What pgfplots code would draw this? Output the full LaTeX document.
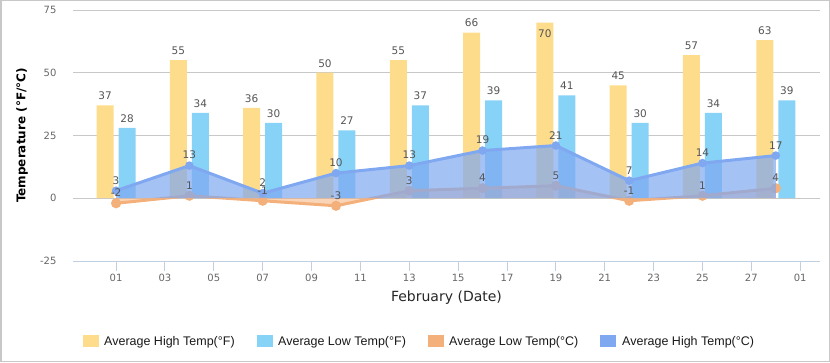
\documentclass[border=0pt]{standalone}
\usepackage{pgfplots}
\pgfplotsset{compat=1.18}
\usepackage{fontspec}
\setmainfont{DejaVu Sans}
\newfontfamily\legfont{Liberation Sans}
\definecolor{yellowc}{HTML}{FDDC8C}
\definecolor{lblue}{HTML}{87D3F8}
\definecolor{orangec}{HTML}{F4B07B}
\definecolor{bluec}{HTML}{7FA8F0}
\definecolor{gridc}{HTML}{C8C8C8}
\definecolor{axisc}{HTML}{C0D0E0}
\definecolor{tickc}{HTML}{666666}
\definecolor{labc}{HTML}{555555}
\begin{document}
\begin{tikzpicture}[x=1pt,y=1pt]
\useasboundingbox (0,0) rectangle (830,362);
\draw[line width=1.5pt, color=gridc] (0.75,0.75) rectangle (829.25,361.25);
\begin{axis}[
  at={(73pt,101pt)}, anchor=south west,
  scale only axis, width=747pt, height=251pt,
  xmin=-0.763, xmax=29.81, ymin=-25, ymax=75,
  axis x line*=bottom, axis y line*=left,
  x axis line style={color=axisc, line width=1pt},
  y axis line style={draw=none},
  ytick={-25,0,25,50,75}, yticklabels={-25,0,25,50,75},
  ymajorgrids, grid style={color=gridc, line width=0.8pt},
  xtick={1,3,...,29},
  xticklabels={01,03,05,07,09,11,13,15,17,19,21,23,25,27,01},
  tick align=outside, major tick length=10pt,
  x tick style={color=axisc, line width=1pt},
  y tick style={draw=none},
  xticklabel style={font=\fontsize{10}{12}\selectfont, color=tickc},
  yticklabel style={font=\fontsize{10}{12}\selectfont, color=tickc, xshift=-3pt},
  xlabel={February (Date)},
  xlabel style={at={(axis description cs:0.5,-0.1474)}, anchor=center, font=\fontsize{14}{16}\selectfont, color=black!85},
  ylabel={Temperature (°F/°C)},
  ylabel style={at={(axis description cs:-0.0683,0.5)}, anchor=center, rotate=0, font=\bfseries\fontsize{12}{15}\selectfont, color=black},
  clip=false, clip marker paths=true,
]
% bars
\addplot[ybar, bar width=17pt, bar shift=-11pt, fill=yellowc, draw=none]
 coordinates {(1,37)(4,55)(7,36)(10,50)(13,55)(16,66)(19,70)(22,45)(25,57)(28,63)};
\addplot[ybar, bar width=17pt, bar shift=11pt, fill=lblue, draw=none]
 coordinates {(1,28)(4,34)(7,30)(10,27)(13,37)(16,39)(19,41)(22,30)(25,34)(28,39)};
% low C
\addplot[fill=orangec, fill opacity=0.55, draw=none]
 coordinates {(1,-2)(4,1)(7,-1)(10,-3)(13,3)(16,4)(19,5)(22,-1)(25,1)(28,4)} \closedcycle;
\addplot[orangec, line width=3pt, mark=*, mark size=3.5pt, mark options={fill=orangec, draw=none}]
 coordinates {(1,-2)(4,1)(7,-1)(10,-3)(13,3)(16,4)(19,5)(22,-1)(25,1)(28,4)};
% high C
\addplot[fill=bluec, fill opacity=0.7, draw=none]
 coordinates {(1,3)(4,13)(7,2)(10,10)(13,13)(16,19)(19,21)(22,7)(25,14)(28,17)} \closedcycle;
\addplot[bluec, line width=3pt, mark=*, mark size=2.7pt, mark options={fill=bluec, draw=none}]
 coordinates {(1,3)(4,13)(7,2)(10,10)(13,13)(16,19)(19,21)(22,7)(25,14)(28,17)};
% labels
\addplot[draw=none, mark=none, nodes near coords, point meta=explicit symbolic,
  every node near coord/.style={font=\fontsize{10.5}{12}\selectfont, color=labc, anchor=south, xshift=-11pt, yshift=2pt}]
 coordinates {(1,37)[37](4,55)[55](7,36)[36](10,50)[50](13,55)[55](16,66)[66](22,45)[45](25,57)[57](28,63)[63]};
\addplot[draw=none, mark=none, nodes near coords, point meta=explicit symbolic,
  every node near coord/.style={font=\fontsize{10.5}{12}\selectfont, color=labc, anchor=north, xshift=-11pt, yshift=-4pt}]
 coordinates {(19,70)[70]};
\addplot[draw=none, mark=none, nodes near coords, point meta=explicit symbolic,
  every node near coord/.style={font=\fontsize{10.5}{12}\selectfont, color=labc, anchor=south, xshift=11pt, yshift=2pt}]
 coordinates {(1,28)[28](4,34)[34](7,30)[30](10,27)[27](13,37)[37](16,39)[39](19,41)[41](22,30)[30](25,34)[34](28,39)[39]};
\addplot[draw=none, mark=none, nodes near coords, point meta=explicit symbolic,
  every node near coord/.style={font=\fontsize{10.5}{12}\selectfont, color=labc, anchor=south, yshift=3pt}]
 coordinates {(1,-2)[-2](4,1)[1](7,-1)[-1](10,-3)[-3](13,3)[3](16,4)[4](19,5)[5](22,-1)[-1](25,1)[1](28,4)[4]};
\addplot[draw=none, mark=none, nodes near coords, point meta=explicit symbolic,
  every node near coord/.style={font=\fontsize{10.5}{12}\selectfont, color=labc, anchor=south, yshift=3pt}]
 coordinates {(1,3)[3](4,13)[13](7,2)[2](10,10)[10](13,13)[13](16,19)[19](19,21)[21](22,7)[7](25,14)[14](28,17)[17]};
\end{axis}
% legend
\fill[yellowc] (83,15.3) rectangle (99,26.7);
\node[anchor=base west, inner sep=0pt, font=\legfont\fontsize{12.5}{14}\selectfont, text=black!90] at (104,16.5) {Average High Temp(°F)};
\fill[lblue] (257,15.3) rectangle (273,26.7);
\node[anchor=base west, inner sep=0pt, font=\legfont\fontsize{12.5}{14}\selectfont, text=black!90] at (278,16.5) {Average Low Temp(°F)};
\fill[orangec] (428,15.3) rectangle (444,26.7);
\node[anchor=base west, inner sep=0pt, font=\legfont\fontsize{12.5}{14}\selectfont, text=black!90] at (449,16.5) {Average Low Temp(°C)};
\fill[bluec] (600,15.3) rectangle (616,26.7);
\node[anchor=base west, inner sep=0pt, font=\legfont\fontsize{12.5}{14}\selectfont, text=black!90] at (622,16.5) {Average High Temp(°C)};
\end{tikzpicture}
\end{document}
